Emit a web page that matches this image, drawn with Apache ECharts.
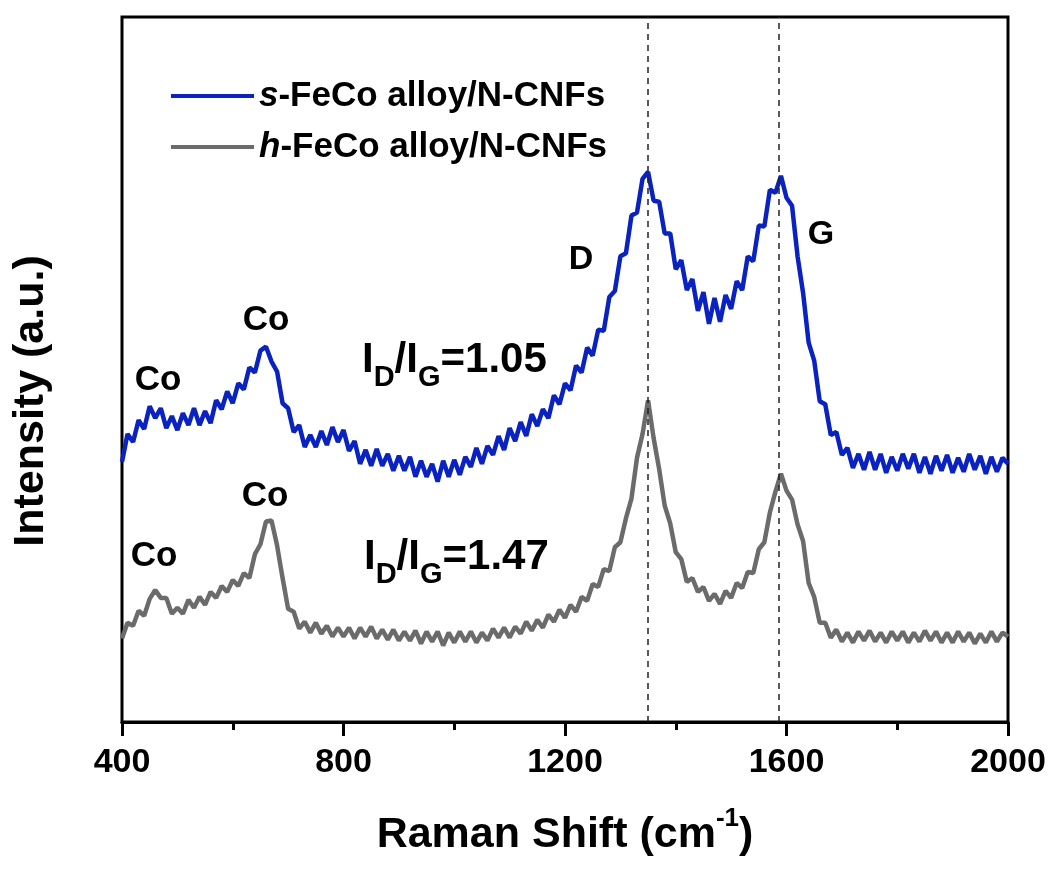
<!DOCTYPE html>
<html>
<head>
<meta charset="utf-8">
<title>Raman</title>
<script src="https://cdn.jsdelivr.net/npm/echarts@6/dist/echarts.min.js"></script>
<style>
    html, body { margin: 0; padding: 0; background: #fff; }
    #divChart { width: 1055px; height: 869px; }
</style>
</head>
<body>
<div id="divChart"></div>
<script>
// Raman shift sampling: 400 .. 2000 cm-1, every 10
var shiftStart = 400;
var shiftStep = 10;

// s-FeCo alloy/N-CNFs
var sFeCo = [
    262, 290, 282, 304, 295, 318, 306, 316, 296, 308,
    294, 311, 299, 316, 299, 313, 301, 324, 315, 333,
    321, 341, 335, 357, 352, 374, 378, 363, 353, 321,
    316, 292, 299, 277, 289, 277, 293, 279, 297, 282,
    294, 273, 283, 260, 274, 258, 275, 258, 270, 253,
    268, 253, 267, 247, 263, 247, 260, 242, 263, 247,
    264, 249, 267, 257, 276, 260, 278, 269, 288, 274,
    296, 283, 302, 288, 310, 298, 315, 306, 329, 320,
    341, 334, 359, 352, 377, 369, 395, 394, 428, 434,
    469, 472, 510, 513, 547, 554, 525, 524, 492, 492,
    456, 465, 435, 446, 414, 433, 401, 427, 403, 430,
    416, 444, 435, 469, 464, 500, 499, 536, 533, 550,
    528, 520, 469, 432, 382, 364, 323, 320, 289, 292,
    269, 276, 256, 270, 254, 272, 254, 270, 251, 267,
    253, 270, 255, 270, 251, 267, 250, 268, 253, 269,
    251, 266, 252, 270, 254, 268, 250, 267, 252, 266,
    260
];

// h-FeCo alloy/N-CNFs
var hFeCo = [
    84, 100, 97, 112, 107, 124, 133, 125, 125, 109,
    115, 109, 123, 115, 126, 118, 131, 125, 137, 131,
    143, 137, 150, 145, 169, 179, 202, 203, 178, 145,
    114, 111, 94, 101, 90, 100, 89, 97, 86, 95,
    86, 95, 84, 95, 86, 96, 84, 93, 83, 93,
    82, 91, 82, 92, 79, 91, 81, 91, 77, 90,
    80, 91, 81, 91, 80, 90, 82, 94, 85, 95,
    85, 96, 89, 101, 92, 103, 95, 108, 101, 113,
    105, 118, 111, 126, 122, 139, 136, 154, 152, 176,
    181, 205, 225, 266, 290, 324, 286, 255, 218, 200,
    171, 164, 141, 145, 131, 136, 122, 129, 119, 132,
    125, 140, 135, 151, 150, 174, 181, 211, 232, 250,
    233, 224, 199, 182, 140, 126, 100, 100, 85, 93,
    81, 90, 80, 91, 82, 92, 81, 90, 80, 91,
    82, 91, 80, 90, 81, 92, 82, 91, 80, 90,
    80, 91, 81, 90, 79, 89, 80, 91, 81, 90,
    86
];

var seriesNames = ['s-FeCo alloy/N-CNFs', 'h-FeCo alloy/N-CNFs'];
var seriesColors = ['#0a22c0', '#6b6b6b'];
var peakLines = [1350, 1586]; // D and G band positions

var xTicks = [400, 800, 1200, 1600, 2000];

function toPairs(arr) {
    var out = [];
    for (var i = 0; i < arr.length; i++) {
        out.push([shiftStart + i * shiftStep, arr[i]]);
    }
    return out;
}

var font = '"Liberation Sans", Arial, Helvetica, sans-serif';

var myChart = echarts.init(document.getElementById('divChart'));

// I_D/I_G label with subscripts
function ratioText(val) {
    return '{m|I}{s|D}{m|/I}{s|G}{m|=' + val + '}';
}
var ratioRich = {
    m: { fontSize: 42, fontWeight: 'bold', fontFamily: font, lineHeight: 64, fill: '#000' },
    s: { fontSize: 29, fontWeight: 'bold', fontFamily: font, lineHeight: 26, verticalAlign: 'bottom', fill: '#000' }
};

function label(txt, x, y, size) {
    return {
        type: 'text',
        x: x, y: y,
        style: {
            text: txt, fill: '#000', font: 'bold ' + size + 'px ' + font,
            align: 'center', verticalAlign: 'middle'
        }
    };
}

var option = {
    animation: false,
    backgroundColor: '#fff',
    grid: {
        left: 122, right: 47, top: 17, bottom: 142,
        show: true, borderColor: '#000', borderWidth: 3
    },
    legend: {
        orient: 'vertical',
        left: 166, top: 72,
        itemWidth: 83, itemHeight: 4, itemGap: 13,
        icon: 'rect',
        data: seriesNames,
        formatter: function(name) {
            return '{it|' + name.charAt(0) + '}' + name.slice(1);
        },
        textStyle: {
            fontFamily: font, fontWeight: 'bold', fontSize: 35, color: '#000', lineHeight: 38,
            rich: {
                it: { fontFamily: font, fontWeight: 'bold', fontStyle: 'italic', fontSize: 35, color: '#000', lineHeight: 38 }
            }
        }
    },
    xAxis: {
        type: 'value',
        min: 400, max: 2000, interval: 400,
        name: 'Raman Shift (cm{sup|-1})',
        nameLocation: 'middle',
        nameGap: 84,
        nameTextStyle: {
            fontFamily: font, fontWeight: 'bold', fontSize: 43, color: '#000', lineHeight: 58,
            rich: {
                sup: { fontFamily: font, fontWeight: 'bold', fontSize: 26, color: '#000', lineHeight: 26, verticalAlign: 'top' }
            }
        },
        axisLine: { show: true, lineStyle: { color: '#000', width: 3 } },
        axisTick: { show: true, inside: false, length: 14, lineStyle: { color: '#000', width: 3 } },
        minorTick: { show: true, splitNumber: 2, length: 8, lineStyle: { color: '#000', width: 3 } },
        splitLine: { show: false },
        axisLabel: {
            margin: 24,
            fontFamily: font, fontWeight: 'bold', fontSize: 34, color: '#000',
            formatter: function(v) { return xTicks.indexOf(v) >= 0 ? String(v) : ''; }
        }
    },
    yAxis: {
        type: 'value',
        min: 0, max: 710,
        axisLine: { show: false },
        axisTick: { show: false },
        axisLabel: { show: false },
        splitLine: { show: false }
    },
    series: [
        {
            name: seriesNames[1],
            type: 'line',
            data: toPairs(hFeCo),
            symbol: 'none',
            lineStyle: { color: seriesColors[1], width: 4.5 },
            itemStyle: { color: seriesColors[1] },
            markLine: {
                silent: true,
                symbol: 'none',
                label: { show: false },
                lineStyle: { color: '#222', width: 1.5, type: [6, 5] },
                data: peakLines.map(function(v) { return { xAxis: v }; })
            }
        },
        {
            name: seriesNames[0],
            type: 'line',
            data: toPairs(sFeCo),
            symbol: 'none',
            lineStyle: { color: seriesColors[0], width: 4.5 },
            itemStyle: { color: seriesColors[0] }
        }
    ],
    graphic: [
        {
            type: 'text', x: 31, y: 401, rotation: Math.PI / 2,
            style: {
                text: 'Intensity (a.u.)', fill: '#000', font: 'bold 43px ' + font,
                align: 'center', verticalAlign: 'middle'
            }
        },
        label('Co', 158, 380, 35),
        label('Co', 266, 320, 35),
        label('Co', 154, 556, 35),
        label('Co', 265, 496, 35),
        label('D', 581, 260, 34),
        label('G', 821, 235, 34),
        { type: 'text', x: 362, y: 328, style: { text: ratioText('1.05'), rich: ratioRich, align: 'left', verticalAlign: 'top' } },
        { type: 'text', x: 364, y: 525, style: { text: ratioText('1.47'), rich: ratioRich, align: 'left', verticalAlign: 'top' } }
    ]
};

myChart.setOption(option);
</script>
</body>
</html>
